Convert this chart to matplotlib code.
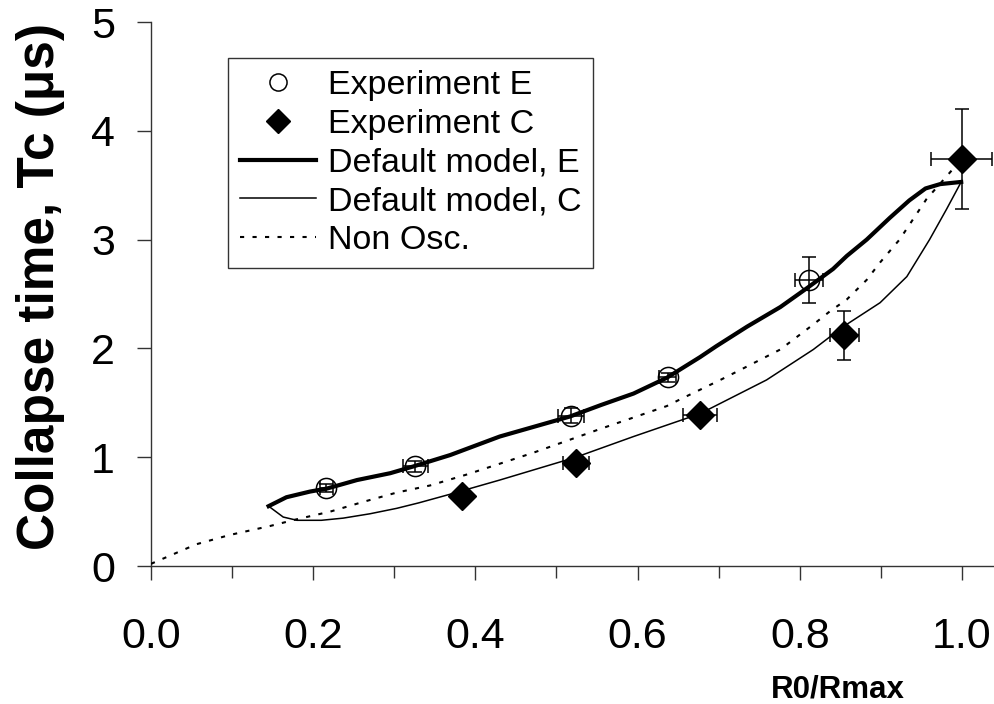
import matplotlib
matplotlib.use("Agg")
import matplotlib.pyplot as plt
from matplotlib.ticker import MultipleLocator, FormatStrFormatter

plt.rcParams['font.family'] = ['Liberation Sans', 'DejaVu Sans']

# ---- data ----
exp_e_x = [0.216, 0.326, 0.518, 0.637, 0.811]
exp_e_y = [0.716, 0.915, 1.38, 1.735, 2.63]
exp_e_xerr = [0.008, 0.015, 0.016, 0.010, 0.017]
exp_e_yerr = [0.04, 0.05, 0.07, 0.04, 0.21]

exp_c_x = [0.383, 0.524, 0.677, 0.855, 1.0]
exp_c_y = [0.647, 0.95, 1.39, 2.12, 3.74]
exp_c_xerr = [0.005, 0.0155, 0.021, 0.018, 0.0376]
exp_c_yerr = [0.02, 0.03, 0.04, 0.225, 0.46]

model_e_x = [0.145, 0.167, 0.196, 0.217, 0.254, 0.295, 0.323, 0.369, 0.43, 0.517,
             0.555, 0.595, 0.636, 0.677, 0.697, 0.735, 0.776, 0.81, 0.841, 0.858,
             0.8825, 0.911, 0.935, 0.955, 0.973, 0.999]
model_e_y = [0.55, 0.632, 0.684, 0.712, 0.79, 0.853, 0.914, 1.02, 1.19, 1.375,
             1.48, 1.585, 1.73, 1.92, 2.02, 2.2, 2.38, 2.56, 2.73, 2.85,
             3.0, 3.2, 3.36, 3.47, 3.51, 3.53]

model_c_x = [0.145, 0.163, 0.18, 0.21, 0.237, 0.27, 0.303, 0.33, 0.369, 0.43,
             0.524, 0.595, 0.677, 0.759, 0.8167, 0.8536, 0.899, 0.932, 0.96,
             0.981, 0.999]
model_c_y = [0.55, 0.45, 0.42, 0.42, 0.44, 0.48, 0.53, 0.58, 0.66, 0.79,
             1.0, 1.19, 1.40, 1.71, 1.99, 2.2, 2.42, 2.66, 3.0,
             3.28, 3.53]

nonosc_x = [0.0, 0.056, 0.097, 0.147, 0.18, 0.221, 0.262, 0.303, 0.344, 0.389,
            0.471, 0.554, 0.636, 0.652, 0.702, 0.726, 0.776, 0.8167, 0.837,
            0.858, 0.8825, 0.899, 0.923, 0.956, 0.989, 1.0]
nonosc_y = [0.02, 0.2, 0.285, 0.368, 0.43, 0.5, 0.59, 0.675, 0.74, 0.84,
            1.04, 1.26, 1.47, 1.53, 1.71, 1.80, 1.99, 2.22, 2.34,
            2.45, 2.63, 2.79, 3.0, 3.37, 3.65, 3.74]

x_ticks = [0.0, 0.2, 0.4, 0.6, 0.8, 1.0]
y_ticks = [0, 1, 2, 3, 4, 5]

# ---- figure ----
W, H = 995, 704
fig = plt.figure(figsize=(W / 100, H / 100), dpi=100)
ax = fig.add_axes([151 / W, (H - 566) / H, (W - 151) / W, (566 - 22) / H])

ax.plot(model_e_x, model_e_y, color='black', lw=3.0, label='Default model, E', zorder=3)
ax.plot(model_c_x, model_c_y, color='black', lw=1.1, label='Default model, C', zorder=3)
ax.plot(nonosc_x, nonosc_y, color='black', lw=1.5, linestyle=(0, (2, 4)),
        label='Non Osc.', zorder=3)

ax.errorbar(exp_e_x, exp_e_y, xerr=exp_e_xerr, yerr=exp_e_yerr, fmt='none',
            ecolor='black', elinewidth=1.1, capsize=4.7, capthick=1.1, zorder=4)
ax.errorbar(exp_c_x, exp_c_y, xerr=exp_c_xerr, yerr=exp_c_yerr, fmt='none',
            ecolor='black', elinewidth=1.1, capsize=4.7, capthick=1.1, zorder=4,
            clip_on=False)

ax.plot(exp_e_x, exp_e_y, linestyle='none', marker='o', ms=14.5, mfc='none',
        mec='black', mew=1.1, label='Experiment E', zorder=5)
ax.plot(exp_c_x, exp_c_y, linestyle='none', marker='D', ms=14, mfc='black',
        mec='black', label='Experiment C', zorder=5, clip_on=False)

ax.set_xlim(0, 1.0407)
ax.set_ylim(0, 5)

for s in ['top', 'right']:
    ax.spines[s].set_visible(False)
for s in ['left', 'bottom']:
    ax.spines[s].set_linewidth(1.0)
    ax.spines[s].set_color('#333333')

ax.set_xticks(x_ticks)
ax.xaxis.set_major_formatter(FormatStrFormatter('%.1f'))
ax.xaxis.set_minor_locator(MultipleLocator(0.1))
ax.set_yticks(y_ticks)
ax.tick_params(axis='x', which='major', direction='out', length=10, width=1.0,
               labelsize=31, pad=27, color='#333333')
ax.tick_params(axis='x', which='minor', direction='out', length=8.6, width=1.0,
               color='#333333')
ax.tick_params(axis='y', which='major', direction='out', length=10, width=1.0,
               labelsize=31, pad=16, color='#333333')

handles, labels = ax.get_legend_handles_labels()
order = ['Experiment E', 'Experiment C', 'Default model, E', 'Default model, C', 'Non Osc.']
hmap = dict(zip(labels, handles))
leg = ax.legend([hmap[k] for k in order], order, loc='upper left',
                bbox_to_anchor=((228 - 151) / 844, (566 - 58) / 544),
                borderaxespad=0, fontsize=24.5, frameon=True, fancybox=False,
                edgecolor='#333333', framealpha=1, handlelength=2.25,
                handletextpad=0.33, borderpad=0.35, labelspacing=0.23,
                markerscale=0.85)
leg.get_frame().set_linewidth(1.0)

fig.text(41 / W, 1 - 287 / H, 'Collapse time, Tc (\u03bcs)', rotation=90,
         ha='center', va='center', fontsize=37, fontweight='bold')
fig.text(838 / W, 1 - 690 / H, 'R0/Rmax', ha='center', va='center',
         fontsize=22.5, fontweight='bold')

fig.savefig('out.png', dpi=100)
